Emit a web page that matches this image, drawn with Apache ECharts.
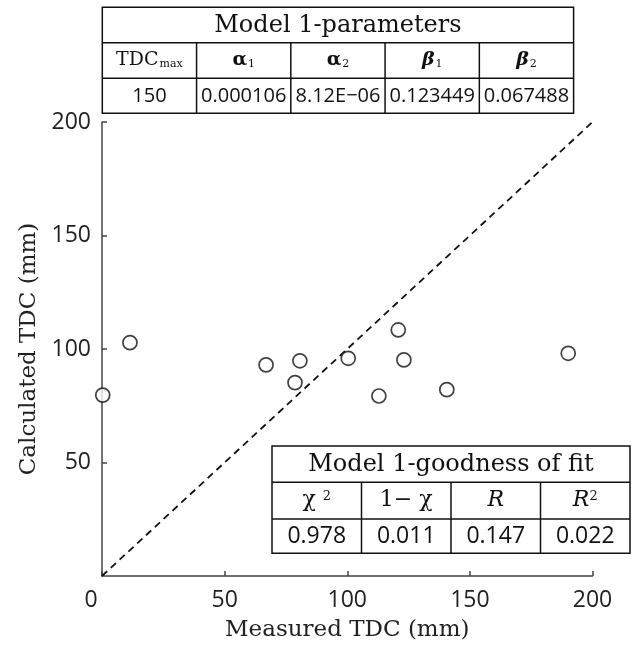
<!DOCTYPE html>
<html>
<head>
<meta charset="utf-8">
<script src="https://cdn.jsdelivr.net/npm/echarts@6/dist/echarts.min.js"></script>
<style>
  html, body { margin: 0; padding: 0; background: #fff; }
  #main { width: 638px; height: 650px; }
</style>
</head>
<body>
<div id="main"></div>
<script>
// measured vs calculated TDC (mm)
const measured   = [0.3, 11.4, 66.9, 78.7, 80.7, 100.4, 112.9, 120.8, 123.1, 140.6, 190.1];
const calculated = [79.7, 102.8, 93.0, 85.2, 94.8, 95.9, 79.3, 108.4, 95.2, 82.1, 98.1];
const oneToOne   = [[0, 0], [201, 201]];
const axisTicks  = [0, 50, 100, 150, 200];

// table texts
const paramTitle  = 'Model 1-parameters';
const paramHeads  = ['{n|TDC}{sub|max}', '{g|α}{sub|1}', '{g|α}{sub|2}', '{b|β}{sub|1}', '{b|β}{sub|2}'];
const paramValues = ['150', '0.000106', '8.12E\u221206', '0.123449', '0.067488'];
const fitTitle    = 'Model 1-goodness of fit';
const fitHeads    = ['{c|χ }{sup|2}', '{c|1\u2212 χ}', '{i|R}', '{i|R}{sup|2}'];
const fitValues   = ['0.978', '0.011', '0.147', '0.022'];

const SERIF = '"DejaVu Serif", serif';
const SANS = '"Open Sans", sans-serif';

const headRich = {
    n:   { fontFamily: SERIF, fontSize: 19, color: '#111' },
    c:   { fontFamily: SERIF, fontSize: 22, color: '#111' },
    g:   { fontFamily: SERIF, fontSize: 19, fontWeight: 'bold', color: '#111' },
    b:   { fontFamily: SERIF, fontSize: 19, fontWeight: 'bold', fontStyle: 'italic', color: '#111' },
    i:   { fontFamily: SERIF, fontSize: 22, fontStyle: 'italic', color: '#111' },
    sub: { fontFamily: SERIF, fontSize: 11, verticalAlign: 'bottom', padding: [0, 0, 0, 1], color: '#111' },
    sup: { fontFamily: SERIF, fontSize: 13, verticalAlign: 'top', color: '#111' }
};

function makeTable(x, y, w, rows, title, heads, vals, titleSize, valSize) {
    let n = heads.length;
    let cw = w / n;
    let h = rows[0] + rows[1] + rows[2];
    let els = [];
    let line = { stroke: '#111', lineWidth: 1.5 };
    els.push({ type: 'rect', z: 100, shape: { x: x, y: y, width: w, height: h },
        style: { fill: '#fff', stroke: '#111', lineWidth: 1.5 } });
    els.push({ type: 'line', z: 101, shape: { x1: x, y1: y + rows[0], x2: x + w, y2: y + rows[0] }, style: line });
    els.push({ type: 'line', z: 101, shape: { x1: x, y1: y + rows[0] + rows[1], x2: x + w, y2: y + rows[0] + rows[1] }, style: line });
    for (let i = 1; i < n; i++) {
        els.push({ type: 'line', z: 101, shape: { x1: x + cw * i, y1: y + rows[0], x2: x + cw * i, y2: y + h }, style: line });
    }
    els.push({ type: 'text', z: 102, x: x + w / 2, y: y + rows[0] / 2 + 1,
        style: { text: title, fontFamily: SERIF, fontSize: titleSize, fill: '#111',
            align: 'center', verticalAlign: 'middle', textAlign: 'center', textVerticalAlign: 'middle' } });
    heads.forEach(function (t, i) {
        els.push({ type: 'text', z: 102, x: x + cw * (i + 0.5), y: y + rows[0] + rows[1] / 2,
            style: { text: t, rich: headRich, fill: '#111',
                align: 'center', verticalAlign: 'middle', textAlign: 'center', textVerticalAlign: 'middle' } });
    });
    vals.forEach(function (t, i) {
        els.push({ type: 'text', z: 102, x: x + cw * (i + 0.5), y: y + rows[0] + rows[1] + rows[2] / 2,
            style: { text: t, fontFamily: SANS, fontSize: valSize, fill: '#111',
                align: 'center', verticalAlign: 'middle', textAlign: 'center', textVerticalAlign: 'middle' } });
    });
    return els;
}

let chart = echarts.init(document.getElementById('main'));

let option = {
    animation: false,
    backgroundColor: '#fff',
    grid: { left: 102, right: 45.5, top: 122, bottom: 74 },
    xAxis: {
        type: 'value',
        min: axisTicks[0], max: axisTicks[axisTicks.length - 1], interval: 50,
        name: 'Measured TDC (mm)',
        nameLocation: 'middle',
        nameGap: 43,
        nameTextStyle: { fontFamily: SERIF, fontSize: 23, color: '#222' },
        axisLine: { lineStyle: { color: '#444', width: 1.5 } },
        axisTick: { inside: true, length: 5, lineStyle: { color: '#444', width: 1.5 } },
        axisLabel: {
            margin: 13, fontFamily: SANS, fontSize: 23, color: '#222',
            formatter: function (v) { return v === 0 ? '{z|0}' : String(v); },
            rich: { z: { fontFamily: SANS, fontSize: 23, color: '#222', padding: [0, 22, 0, 0] } }
        },
        splitLine: { show: false }
    },
    yAxis: {
        type: 'value',
        min: axisTicks[0], max: axisTicks[axisTicks.length - 1], interval: 50,
        name: 'Calculated TDC (mm)',
        nameLocation: 'middle',
        nameGap: 60,
        nameTextStyle: { fontFamily: SERIF, fontSize: 23, color: '#222' },
        axisLine: { lineStyle: { color: '#444', width: 1.5 } },
        axisTick: { inside: true, length: 5, lineStyle: { color: '#444', width: 1.5 } },
        axisLabel: { margin: 11, showMinLabel: false, fontFamily: SANS, fontSize: 23, color: '#222' },
        splitLine: { show: false }
    },
    series: [
        {
            type: 'line',
            data: oneToOne,
            symbol: 'none',
            silent: true,
            clip: false,
            lineStyle: { color: '#111', width: 1.8, type: [7, 5] }
        },
        {
            type: 'scatter',
            data: measured.map(function (m, i) { return [m, calculated[i]]; }),
            symbol: 'circle',
            symbolSize: 14,
            itemStyle: { color: '#fff', borderColor: '#111', borderWidth: 1.7 },
            z: 5
        }
    ],
    graphic: [].concat(
        makeTable(102.3, 7.3, 471.3, [35.4, 35.6, 35], paramTitle, paramHeads, paramValues, 24, 20),
        makeTable(272, 446, 358, [36.3, 36.7, 34.3], fitTitle, fitHeads, fitValues, 24, 23)
    )
};

chart.setOption(option);
</script>
</body>
</html>
